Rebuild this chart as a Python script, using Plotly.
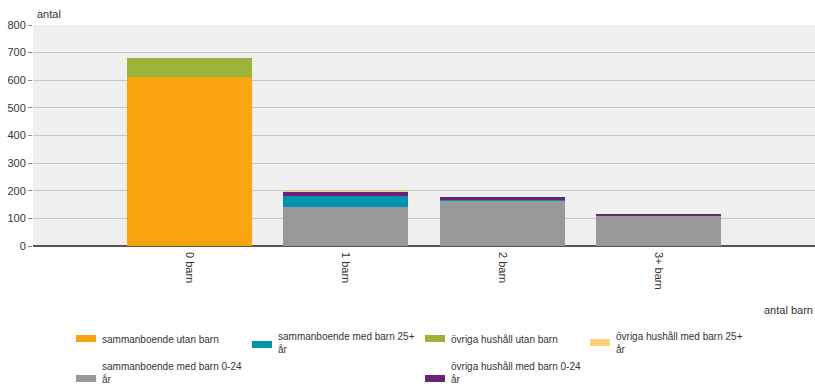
import plotly.graph_objects as go

categories = ["0 barn", "1 barn", "2 barn", "3+ barn"]
series_names = [
    "sammanboende utan barn",
    "sammanboende med barn 0-24<br>år",
    "sammanboende med barn 25+<br>år",
    "övriga hushåll utan barn",
    "övriga hushåll med barn 0-24<br>år",
    "övriga hushåll med barn 25+<br>år",
]
sammanboende_utan_barn = [612, 0, 0, 0]
sammanboende_0_24 = [0, 142, 163, 110]
sammanboende_25 = [0, 39, 2, 0]
ovriga_utan_barn = [68, 0, 0, 0]
ovriga_0_24 = [0, 15, 13, 6]
ovriga_25 = [0, 2, 0, 0]
values = [sammanboende_utan_barn, sammanboende_0_24, sammanboende_25,
          ovriga_utan_barn, ovriga_0_24, ovriga_25]
colors = ["#F8A30F", "#999999", "#0093AD", "#9BB33B", "#6E2277", "#FDD17A"]

W, H = 815, 389
ML, MR, MT, MB = 33, 0, 25, 143
PW, PH = W - ML - MR, H - MT - MB

def px(x):
    return (x - ML) / PW

def py(y):
    return (H - MB - y) / PH

fig = go.Figure()
for name, vals, col in zip(series_names, values, colors):
    fig.add_trace(go.Bar(x=categories, y=vals, name=name, marker_color=col,
                         marker_line_width=0, width=0.8))

# manual legend layout (swatch left x, swatch top y, text center y)
legend_pos = [
    (76, 335, 339),   # sammanboende utan barn
    (76, 375, 373),   # sammanboende 0-24
    (252, 341, 343),  # sammanboende 25+
    (425, 335, 339),  # övriga utan barn
    (425, 375, 373),  # övriga 0-24
    (590, 339, 343),  # övriga 25+
]
shapes = []
annotations = []
for (sx, sy, ty), name, col in zip(legend_pos, series_names, colors):
    shapes.append(dict(type="rect", xref="paper", yref="paper",
                       x0=px(sx), x1=px(sx + 20), y0=py(sy), y1=py(sy + 7),
                       fillcolor=col, line_width=0, layer="above"))
    annotations.append(dict(text=name, xref="paper", yref="paper",
                            x=px(sx + 24), y=py(ty), xanchor="left", yanchor="middle",
                            align="left", showarrow=False,
                            font=dict(size=10, color="#333333")))

annotations += [
    dict(text="antal", xref="paper", yref="paper", x=px(35), y=py(14),
         xanchor="left", yanchor="middle", showarrow=False, font=dict(size=11, color="#333")),
    dict(text="antal barn", xref="paper", yref="paper", x=1.0, y=py(310),
         xanchor="right", yanchor="middle", showarrow=False, font=dict(size=11, color="#333")),
]

fig.update_layout(
    barmode="stack",
    width=W, height=H,
    margin=dict(l=ML, r=MR, t=MT, b=MB, autoexpand=False),
    paper_bgcolor="white",
    plot_bgcolor="#EFEFEF",
    font=dict(family="Liberation Sans, Arial", size=11, color="#333333"),
    showlegend=False,
    shapes=shapes,
    annotations=annotations,
)
fig.update_xaxes(range=[-1, 4], tickangle=90, showgrid=False, ticks="",
                 ticklabelstandoff=5, automargin=False,
                 tickfont=dict(size=11, color="#333"), fixedrange=True)
fig.update_yaxes(range=[0, 800], dtick=100, gridcolor="#C8C8C8", gridwidth=1,
                 zeroline=True, zerolinecolor="#555555", zerolinewidth=2,
                 ticks="outside", ticklen=4, tickcolor="#888", automargin=False,
                 tickfont=dict(size=11, color="#333"), fixedrange=True)

fig.write_html("out.html")
